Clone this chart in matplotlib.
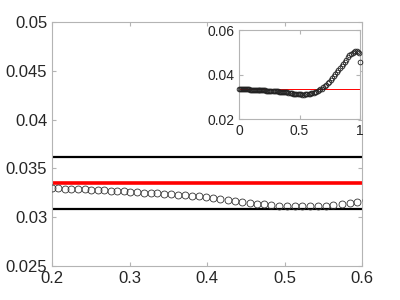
import matplotlib
matplotlib.use("Agg")
import matplotlib.pyplot as plt

plt.rcParams['font.family'] = ['Liberation Sans', 'DejaVu Sans']

# sample positions and values
x_a = [0.000, 0.008, 0.016, 0.024, 0.032, 0.040, 0.048, 0.056, 0.064, 0.072,
       0.080, 0.088, 0.096, 0.104, 0.112, 0.120, 0.128, 0.136, 0.144, 0.152,
       0.160, 0.168, 0.176, 0.184, 0.192]
y_a = [0.0338, 0.0337, 0.0336, 0.0336, 0.0335, 0.0335, 0.0335, 0.0334, 0.0334, 0.0334,
       0.0334, 0.0333, 0.0333, 0.0333, 0.0333, 0.0332, 0.0332, 0.0332, 0.0332, 0.0332,
       0.0331, 0.0331, 0.0331, 0.0331, 0.0331]

x_b = [0.200, 0.208, 0.217, 0.225, 0.233, 0.242, 0.250, 0.259, 0.267, 0.276,
       0.284, 0.293, 0.301, 0.310, 0.319, 0.328, 0.336, 0.345, 0.354, 0.363,
       0.372, 0.381, 0.390, 0.399, 0.408, 0.417, 0.427, 0.436, 0.445, 0.455,
       0.464, 0.474, 0.483, 0.493, 0.503, 0.513, 0.523, 0.533, 0.543, 0.553,
       0.563, 0.574, 0.584, 0.594]
y_b = [0.03298, 0.03296, 0.03294, 0.03291, 0.03289, 0.03286, 0.03283, 0.03280, 0.03276, 0.03272,
       0.03268, 0.03264, 0.03260, 0.03256, 0.03252, 0.03248, 0.03244, 0.03240, 0.03235, 0.03231,
       0.03226, 0.03220, 0.03213, 0.03205, 0.03196, 0.03186, 0.03176, 0.03166, 0.03156, 0.03147,
       0.03138, 0.03131, 0.03125, 0.03120, 0.03117, 0.03115, 0.03114, 0.03114, 0.03116, 0.03119,
       0.03124, 0.03132, 0.03144, 0.03159]

x_c = [0.605, 0.616, 0.627, 0.638, 0.650, 0.661, 0.673, 0.685, 0.697, 0.709,
       0.721, 0.733, 0.745, 0.758, 0.770, 0.783, 0.796, 0.809, 0.822, 0.835,
       0.848, 0.861, 0.874, 0.887, 0.900, 0.913, 0.926, 0.939, 0.951, 0.962,
       0.972, 0.981, 0.989, 0.996]
y_c = [0.0318, 0.0320, 0.0322, 0.0324, 0.0327, 0.0330, 0.0334, 0.0338, 0.0343, 0.0349,
       0.0355, 0.0362, 0.0369, 0.0377, 0.0385, 0.0393, 0.0402, 0.0411, 0.0420, 0.0430,
       0.0440, 0.0449, 0.0458, 0.0467, 0.0477, 0.0486, 0.0493, 0.0499, 0.0503, 0.0505,
       0.0504, 0.0500, 0.0495, 0.0456]

x_all = x_a + x_b + x_c
y_all = y_a + y_b + y_c

mean_val = 0.03354
band_hi = 0.03617
band_lo = 0.03080

spine_col = '#b4b4b4'
text_col = '#262626'


def style(ax, size):
    for s in ax.spines.values():
        s.set_color(spine_col)
        s.set_linewidth(0.8)
    ax.tick_params(direction='in', top=True, right=True, color=spine_col,
                   labelcolor=text_col, labelsize=size, length=3, width=0.8)


fig = plt.figure(figsize=(4, 3), dpi=100)
ax = fig.add_axes([0.13, 0.113, 0.775, 0.814])
ax.axhline(band_hi, color='k', lw=1.6, zorder=2)
ax.axhline(band_lo, color='k', lw=1.6, zorder=2)
ax.axhline(mean_val, color='#ff0000', lw=2.6, zorder=2)
ax.plot(x_all, y_all, 'o', mfc='none', mec='#333333', mew=0.6, ms=5.0, zorder=3)
ax.set_xlim(0.2, 0.6)
ax.set_ylim(0.025, 0.05)
ax.set_xticks([0.2, 0.3, 0.4, 0.5, 0.6])
ax.set_xticklabels(['0.2', '0.3', '0.4', '0.5', '0.6'])
ax.set_yticks([0.025, 0.03, 0.035, 0.04, 0.045, 0.05])
ax.set_yticklabels(['0.025', '0.03', '0.035', '0.04', '0.045', '0.05'])
style(ax, 12)

ins = fig.add_axes([0.598, 0.602, 0.302, 0.298])
ins.axhline(mean_val, color='#ff0000', lw=0.7, zorder=2)
ins.plot(x_all, y_all, 'o', mfc='none', mec='#222222', mew=0.6, ms=3.4,
         zorder=3, clip_on=False)
ins.set_xlim(0, 1)
ins.set_ylim(0.02, 0.06)
ins.set_xticks([0, 0.5, 1])
ins.set_xticklabels(['0', '0.5', '1'])
ins.set_yticks([0.02, 0.04, 0.06])
ins.set_yticklabels(['0.02', '0.04', '0.06'])
style(ins, 10)

fig.savefig('out.png', dpi=100)
